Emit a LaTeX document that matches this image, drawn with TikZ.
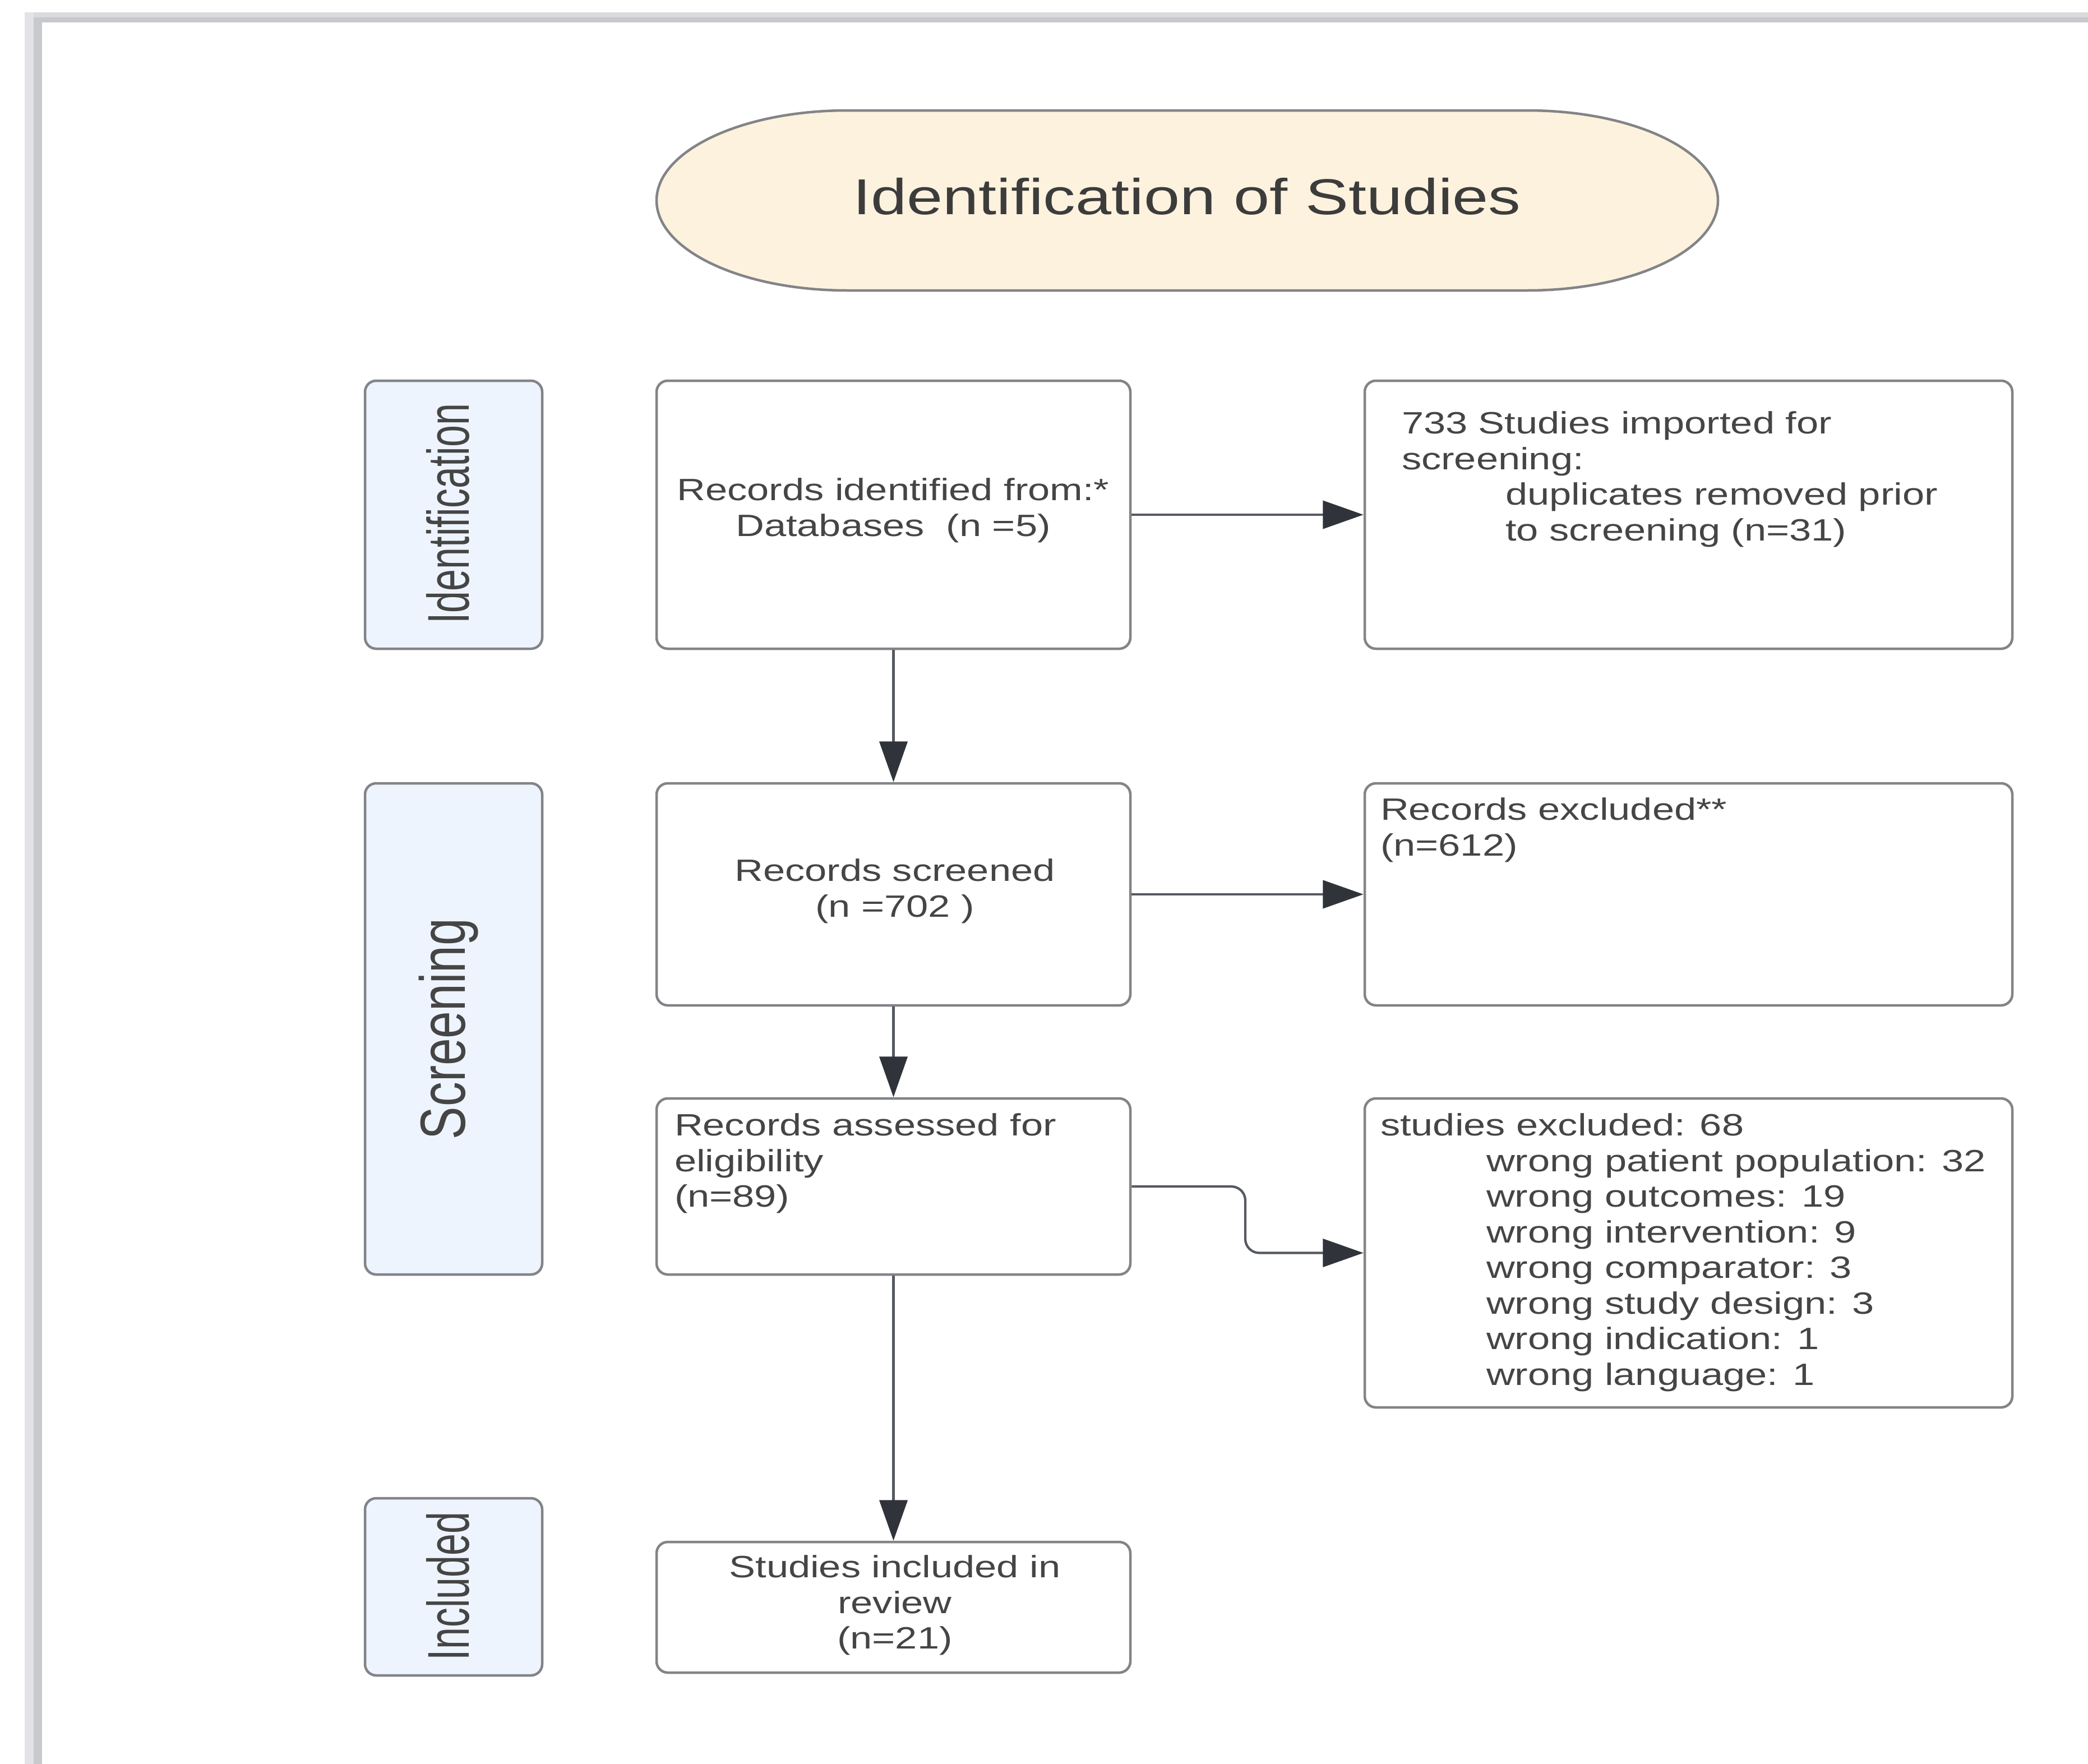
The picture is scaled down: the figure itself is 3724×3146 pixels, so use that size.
\documentclass[tikz,border=0pt]{standalone}
\usepackage{fontspec}
\setmainfont{Liberation Sans}[FakeStretch=1.28]
\newfontfamily\plainfont{Liberation Sans}
\usepackage{graphicx}
\usetikzlibrary{arrows.meta}
\definecolor{txt}{HTML}{454545}
\definecolor{titlec}{HTML}{3C3C3C}
\definecolor{bord}{HTML}{828487}
\definecolor{labfill}{HTML}{EEF4FD}
\definecolor{cream}{HTML}{FDF2DE}
\definecolor{linkc}{HTML}{555960}
\definecolor{tipc}{HTML}{30343A}
\definecolor{frameA}{HTML}{D9DADD}
\definecolor{frameB}{HTML}{C8C9CC}
\definecolor{frameC}{HTML}{E2E3E6}
\tikzset{
  box/.style={draw=bord, line width=0.9pt, rounded corners=4pt, fill=white, inner sep=0pt, minimum width=169pt},
  wbox/.style={box, minimum width=231pt},
  sidebox/.style={draw=bord, line width=0.9pt, rounded corners=4pt, fill=labfill, inner sep=0pt, minimum width=63.2pt},
  sidetext/.style={inner sep=0pt, text=txt},
  txtl/.style={inner sep=0pt, anchor=north west, align=left, text=txt, font=\fontsize{11}{12.7}\selectfont},
  txtc/.style={inner sep=0pt, anchor=north, align=center, text=txt, font=\fontsize{11}{12.7}\selectfont},
  link/.style={draw=linkc, line width=0.85pt, -{Triangle[length=14.5pt,width=10pt,color=tipc]}},
}
\begin{document}
\begin{tikzpicture}[x=0.2pt,y=-0.2pt]
\useasboundingbox (0,0) rectangle (3724,3146);
\fill[white] (0,0) rectangle (3724,3146);
% screenshot frame
\fill[frameA] (44,22) rectangle (3724,31);
\fill[frameB] (44,31) rectangle (3724,40);
\fill[frameC] (44,22) rectangle (60,3146);
\fill[frameB] (60,40) rectangle (75,3146);

% title terminator
\filldraw[fill=cream, draw=bord, line width=0.9pt]
  (1511,197) -- (2724,197)
  arc[start angle=-90, end angle=90, x radius=340, y radius=160.5]
  -- (1511,518)
  arc[start angle=90, end angle=270, x radius=340, y radius=160.5] -- cycle;
\node[text=titlec, font=\fontsize{18}{20}\selectfont, inner sep=0pt] (title) at (2117,350) {Identification of Studies};

% side labels
\node[sidebox, minimum height=95.6pt] (lab1) at (809,918) {};
\node[sidetext] (lab1t) at (799,916)
  {\rotatebox{90}{\scalebox{1}[1.5]{\plainfont\fontsize{14}{16}\selectfont Identification}}};
\node[sidebox, minimum height=175.2pt] (lab2) at (809,1835) {};
\node[sidetext] (lab2t) at (800,1835)
  {\rotatebox{90}{\scalebox{1}[1.3]{\plainfont\fontsize{17.5}{19}\selectfont Screening}}};
\node[sidebox, minimum height=63.2pt] (lab3) at (809,2830) {};
\node[sidetext] (lab3t) at (799,2829)
  {\rotatebox{90}{\scalebox{1}[1.5]{\plainfont\fontsize{14}{16}\selectfont Included}}};

% boxes
\node[box, minimum height=95.6pt] (rid) at (1593.5,918) {};
\node[wbox, minimum height=95.6pt] (imp) at (3011.5,918) {};
\node[box, minimum height=79.2pt] (rs) at (1593.5,1595) {};
\node[wbox, minimum height=79.2pt] (rex) at (3011.5,1595) {};
\node[box, minimum height=62.8pt] (ra) at (1593.5,2116) {};
\node[wbox, minimum height=110.2pt] (sex) at (3011.5,2234.5) {};
\node[box, minimum height=46.6pt] (si) at (1593.5,2866.5) {};

% texts
\node[txtc] (ridt) at (1593,852) {Records identified from:*\\Databases\ \ (n =5)};
\node[txtl] (impt) at (2499,733) {733 Studies imported for\\screening:\\\hspace*{37pt}duplicates removed prior\\\hspace*{37pt}to screening (n=31)};
\node[txtc] (rst) at (1596,1531) {Records screened\\(n =702\ )};
\node[txtl] (rext) at (2461,1422) {Records excluded**\\(n=612)};
\node[txtl] (rat) at (1202,1985) {Records assessed for\\eligibility\\(n=89)};
\node[txtl] (sext) at (2461,1985) {studies excluded: 68\\
\hspace*{37.8pt}wrong patient population: 32\\
\hspace*{37.8pt}wrong outcomes: 19\\
\hspace*{37.8pt}wrong intervention: 9\\
\hspace*{37.8pt}wrong comparator: 3\\
\hspace*{37.8pt}wrong study design: 3\\
\hspace*{37.8pt}wrong indication: 1\\
\hspace*{37.8pt}wrong language: 1};
\node[txtc] (sit) at (1596,2773) {Studies included in\\review\\(n=21)};

% connectors
\coordinate (bend) at (2221,2116);
\draw[link] (rid.south) -- (rs.north);
\draw[link] (rid.east) -- (imp.west);
\draw[link] (rs.east) -- (rex.west);
\draw[link] (rs.south) -- (ra.north);
\draw[link, rounded corners=5pt] (ra.east) -- (bend) |- (sex.west);
\draw[link] (ra.south) -- (si.north);
\end{tikzpicture}
\end{document}
